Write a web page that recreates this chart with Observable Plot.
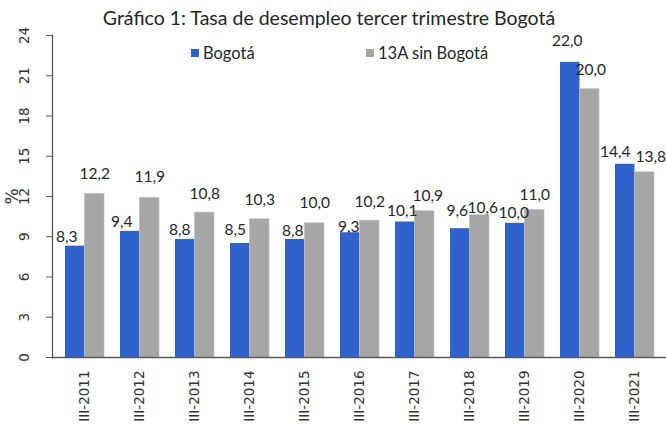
<!DOCTYPE html>
<html><head><meta charset="utf-8">
<script src="https://cdn.jsdelivr.net/npm/d3@7"></script>
<script src="https://cdn.jsdelivr.net/npm/@observablehq/plot@0.6"></script>
<style>
body{margin:0;background:#fff;}
#wrap{position:relative;width:666px;height:426px;overflow:hidden;background:#fff;}
#title{position:absolute;left:-4px;top:6px;width:666px;text-align:center;font-family:Lato,sans-serif;font-size:19.5px;line-height:24px;color:#262626;z-index:2;}
.leg{position:absolute;top:44px;font-family:Lato,sans-serif;font-size:16.5px;line-height:18px;color:#262626;display:flex;align-items:center;z-index:2;}
.sw{width:8px;height:8px;margin-right:4px;}
#chart{position:absolute;left:0;top:20px;}
</style></head>
<body>
<div id="wrap">
  <div id="chart"></div>
  <div id="title">Gráfico 1: Tasa de desempleo tercer trimestre Bogotá</div>
  <div id="legend"></div>
</div>
<script>
// ---- data ----
const categories = ["III-2011","III-2012","III-2013","III-2014","III-2015","III-2016","III-2017","III-2018","III-2019","III-2020","III-2021"];
const seriesNames = ["Bogotá","13A sin Bogotá"];
const bogota = [8.3, 9.4, 8.8, 8.5, 8.8, 9.3, 10.1, 9.6, 10.0, 22.0, 14.4];
const resto13A = [12.2, 11.9, 10.8, 10.3, 10.0, 10.2, 10.9, 10.6, 11.0, 20.0, 13.8];
const yTicks = [0, 3, 6, 9, 12, 15, 18, 21, 24];

// ---- styling ----
const colors = ["#2F62CB", "#A6A6A6"];
// data-label nudges (px) reproducing the hand-placed labels of the original
const liftBogota = [9, 9, 9, 13, 8, 6, 11, 18, 10, 21, 12];
const lift13A = [20, 21, 19, 19, 20, 19, 15, 7, 15, 19, 15];
const shiftBogota = [-8.5, -8.5, -5.5, -5, -2.5, -1.5, -3, -3, -1.5, -3, -10];
const shift13A = [0, 0, 0, 0, 0, 0, 3, 3, 0, 1, 6];

const W = 666, H = 406, mL = 52, mR = 0, mT = 15, mB = 69;
const bw = d3.scaleBand(categories, [mL, W - mR]).paddingInner(0.3).paddingOuter(0.15).bandwidth();
const fmt = v => d3.format(".1f")(v).replace(".", ",");

const rowsB = categories.map((c, i) => ({cat: c, serie: seriesNames[0], value: bogota[i], lift: liftBogota[i], shift: shiftBogota[i]}));
const rowsG = categories.map((c, i) => ({cat: c, serie: seriesNames[1], value: resto13A[i], lift: lift13A[i], shift: shift13A[i]}));

// legend
const leg = document.getElementById("legend");
[[191, 0], [366, 1]].forEach(([left, i]) => {
  const d = document.createElement("div");
  d.className = "leg"; d.style.left = left + "px";
  d.innerHTML = `<span class="sw" style="background:${colors[i]}"></span>${seriesNames[i]}`;
  leg.appendChild(d);
});

// label mark: each label drawn through the scales, then nudged by its own offset
function labels(rows, side) {
  return Plot.text(rows, {
    x: "cat", y: "value", text: d => fmt(d.value),
    dx: side * bw / 4, lineAnchor: "middle", fontSize: 15.5, fill: "#262626",
    render(index, scales, values, dims, context, next) {
      const g = next(index, scales, values, dims, context);
      const texts = g.querySelectorAll("text");
      index.forEach((i, k) => {
        const t = texts[k];
        if (t) {
          const tr = t.getAttribute("transform") || "";
          t.setAttribute("transform", `${tr} translate(${rows[i].shift},${-rows[i].lift})`);
        }
      });
      return g;
    }
  });
}

const chart = Plot.plot({
  width: W, height: H, marginLeft: mL, marginRight: mR, marginTop: mT, marginBottom: mB,
  style: {fontFamily: "Lato, sans-serif", color: "#262626", background: "transparent"},
  x: {domain: categories, paddingInner: 0.3, paddingOuter: 0.15},
  y: {domain: [0, 24]},
  color: {domain: seriesNames, range: colors},
  marks: [
    Plot.barY(rowsB, {x: "cat", y: "value", fill: "serie", insetRight: bw / 2}),
    Plot.barY(rowsG, {x: "cat", y: "value", fill: "serie", insetLeft: bw / 2, stroke: "#BDBDBD", strokeWidth: 0.6}),
    labels(rowsB, -1),
    labels(rowsG, 1),
    Plot.ruleY([0], {stroke: "#595959", strokeWidth: 1.3}),
    Plot.frame({anchor: "left", stroke: "#595959", strokeWidth: 1.3}),
    Plot.axisY({ticks: yTicks, tickSize: 6, tickRotate: -90, tickPadding: 18, fontSize: 13.5, fontFamily: "DejaVu Sans", stroke: "#595959", fill: "#333", label: null}),
    Plot.axisY({ticks: [], tickSize: 0, label: "%", labelArrow: "none", labelAnchor: "center", labelOffset: 47, fontSize: 17, fontFamily: "DejaVu Sans", fill: "#333"}),
    Plot.axisX({tickSize: 0, tickRotate: -90, tickPadding: 13, fontSize: 13.5, fontFamily: "DejaVu Sans", fill: "#333", label: null})
  ]
});
document.getElementById("chart").appendChild(chart);
</script>
</body></html>
